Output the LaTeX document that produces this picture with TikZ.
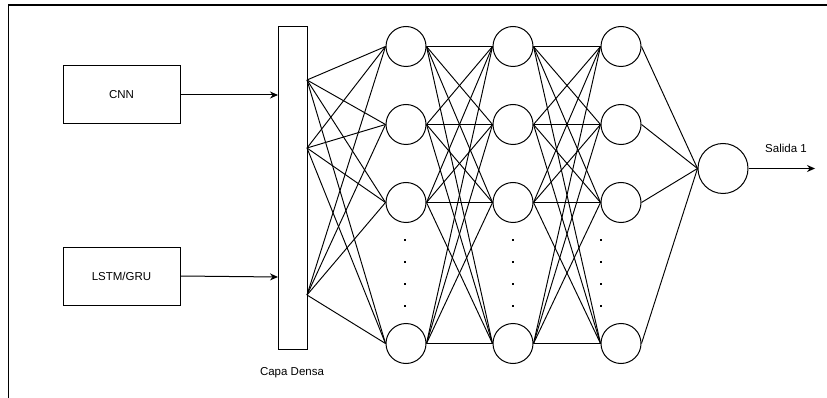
\documentclass[tikz,border=0pt]{standalone}
\usepackage{fontspec}
\setmainfont{Liberation Sans}
\usetikzlibrary{arrows.meta}
\begin{document}
\begin{tikzpicture}[x=1pt,y=-1pt,
  every node/.style={font=\fontsize{11.5}{13}\selectfont},
  boxnode/.style={draw,line width=1pt,minimum width=117pt,minimum height=58pt,inner sep=0pt},
  neuron/.style={draw,circle,line width=1pt,minimum size=40pt,inner sep=0pt},
  outneuron/.style={draw,circle,line width=1pt,minimum size=50pt,inner sep=0pt},
  link/.style={line width=0.95pt},
  arr/.style={line width=1pt,-{Stealth[length=8pt,width=7pt]}},
  dotmark/.style={fill=black,minimum size=2.6pt,inner sep=0pt,draw=none}]
\useasboundingbox (0,0) rectangle (827,398);
% frame
\draw[line width=1.1pt] (827,5) -- (8.5,5) -- (8.5,398);
% input boxes
\node[boxnode] (cnn) at (121.5,95) {CNN};
\node[boxnode] (lstm) at (121.5,276) {LSTM/GRU};
% dense bar
\node[draw,line width=1pt,minimum width=29pt,minimum height=322pt,inner sep=0pt] (bar) at (292.5,188) {};
\node (barlabel) at (292,373) {Capa Densa};
\coordinate (b1) at (307,80);
\coordinate (b2) at (307,148);
\coordinate (b3) at (307,295);
\coordinate (cin) at (278,95);
\coordinate (lin) at (278,277);
\draw[arr] (cnn.east) -- (cin);
\draw[arr] (lstm.east) -- (lin);
% neurons
\foreach \c/\x in {1/406,2/513,3/621}{
  \node[neuron] (n\c1) at (\x,46.5) {};
  \node[neuron] (n\c2) at (\x,124.5) {};
  \node[neuron] (n\c3) at (\x,202.5) {};
  \node[neuron] (n\c4) at (\x,343.5) {};
}
\node[outneuron] (out) at (723,168.5) {};
% dots
\foreach \x/\c in {405/1,513/2,601/3}{
  \foreach \y/\k in {240/a,262/b,284/c,306/d}{
    \node[dotmark] (d\c\k) at (\x,\y) {};
  }
}
% bar to layer 1
\foreach \b in {b1,b2,b3}{
  \foreach \j in {1,2,3,4}{
    \draw[link] (\b) -- (n1\j.west);
  }
}
% layer 1 to 2, 2 to 3
\foreach \i in {1,2,3,4}{
  \foreach \j in {1,2,3,4}{
    \draw[link] (n1\i.east) -- (n2\j.west);
    \draw[link] (n2\i.east) -- (n3\j.west);
  }
  \draw[link] (n3\i.east) -- (out.west);
}
% output
\coordinate (outend) at (815,168.5);
\draw[arr] (out.east) -- (outend);
\node (salida) at (786,148) {Salida 1};
\end{tikzpicture}
\end{document}
